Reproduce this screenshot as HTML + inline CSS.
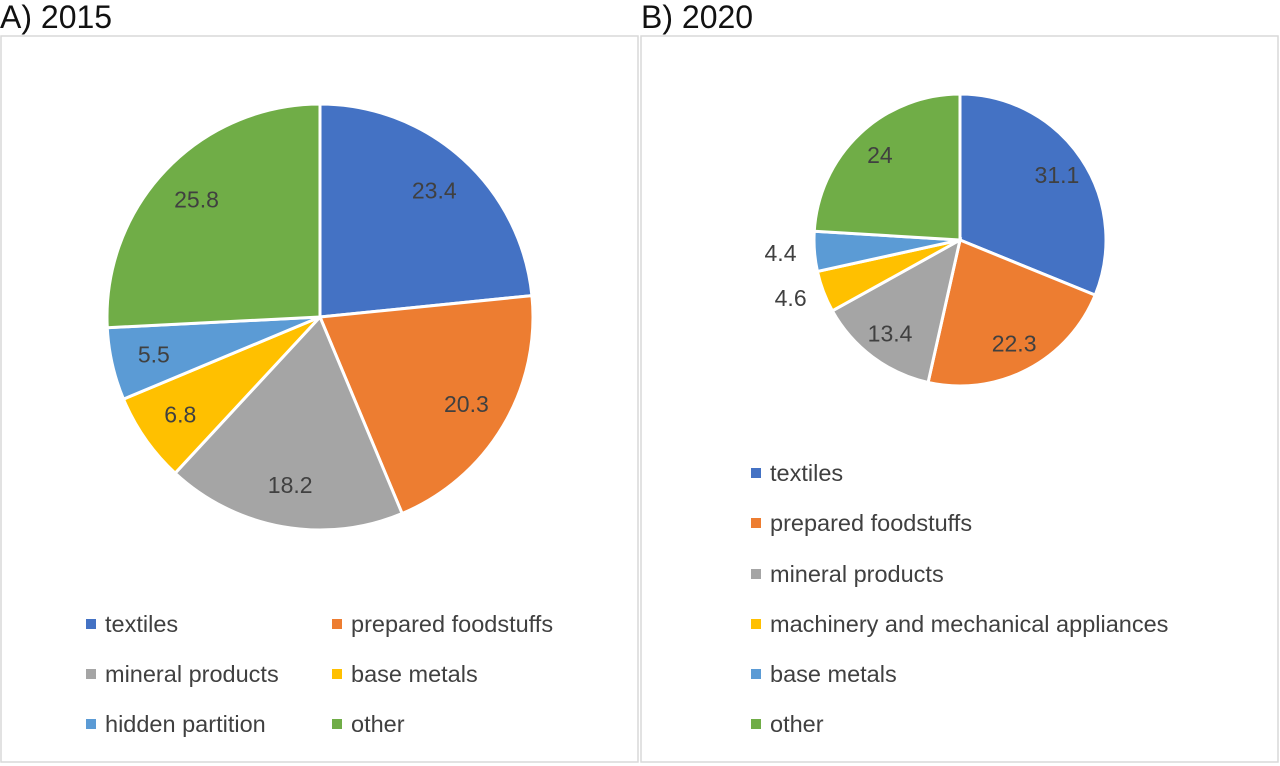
<!DOCTYPE html>
<html><head><meta charset="utf-8"><style>
body{margin:0;width:1280px;height:766px;background:#fff;overflow:hidden;font-family:"Liberation Sans",sans-serif}
svg{position:absolute;left:0;top:0}
</style></head><body>
<svg id="s" width="1280" height="766">
<text x="0" y="28" font-size="32" fill="#111">A) 2015</text>
<text x="641" y="28" font-size="32" fill="#111">B) 2020</text>
<rect x="1" y="36" width="637" height="726" fill="none" stroke="#d9d9d9" stroke-width="1.5"/>
<rect x="641" y="36" width="637" height="726" fill="none" stroke="#d9d9d9" stroke-width="1.5"/>
</svg>
<script>
const colors=["#4472C4","#ED7D31","#A5A5A5","#FFC000","#5B9BD5","#70AD47"];
const catsA=["textiles","prepared foodstuffs","mineral products","base metals","hidden partition","other"];
const valsA=[23.4,20.3,18.2,6.8,5.5,25.8];
const catsB=["textiles","prepared foodstuffs","mineral products","machinery and mechanical appliances","base metals","other"];
const valsB=[31.1,22.3,13.4,4.6,4.4,24];
const svg=document.getElementById('s');
const NS="http://www.w3.org/2000/svg";
function mk(t,a){const e=document.createElementNS(NS,t);for(const k in a)e.setAttribute(k,a[k]);svg.appendChild(e);return e;}
function pie(vals,cx,cy,r,pref,outsideSmall){
  const tot=vals.reduce((a,b)=>a+b,0);let a0=-Math.PI/2;
  vals.forEach((v,i)=>{
    const a1=a0+v/tot*2*Math.PI;
    const x0=cx+r*Math.cos(a0),y0=cy+r*Math.sin(a0),x1=cx+r*Math.cos(a1),y1=cy+r*Math.sin(a1);
    const p=mk('path',{d:`M${cx},${cy}L${x0},${y0}A${r},${r} 0 ${a1-a0>Math.PI?1:0} 1 ${x1},${y1}Z`,fill:colors[i],stroke:'#fff','stroke-width':3});
    
    
    const am=(a0+a1)/2;let lr=r*0.8,anchor='middle';
    if(outsideSmall&&v<5){lr=r+18;anchor='end';}
    const t=mk('text',{x:cx+lr*Math.cos(am),y:cy+lr*Math.sin(am)+8,'font-size':23,fill:'#404040','text-anchor':anchor});
    t.textContent=String(v);
    
    
    a0=a1;
  });
}
pie(valsA,320,317,213,'pie-a',false);
pie(valsB,960,240,146,'pie-b',true);
function legend(cats,xs,ys,cols,pref){
  cats.forEach((c,i)=>{
    const x=xs[i%cols],y=ys[Math.floor(i/cols)];
    const r=mk('rect',{x:x,y:y-13,width:10,height:10,fill:colors[i]});
    
    
    const t=mk('text',{x:x+19,y:y,'font-size':23.5,fill:'#404040'});
    t.textContent=c;
    
    
  });
}
legend(catsA,[86,332],[632,682,732],2,'pie-a');
legend(catsB,[751],[481,531,582,632,682,732],1,'pie-b');
</script>
</body></html>
